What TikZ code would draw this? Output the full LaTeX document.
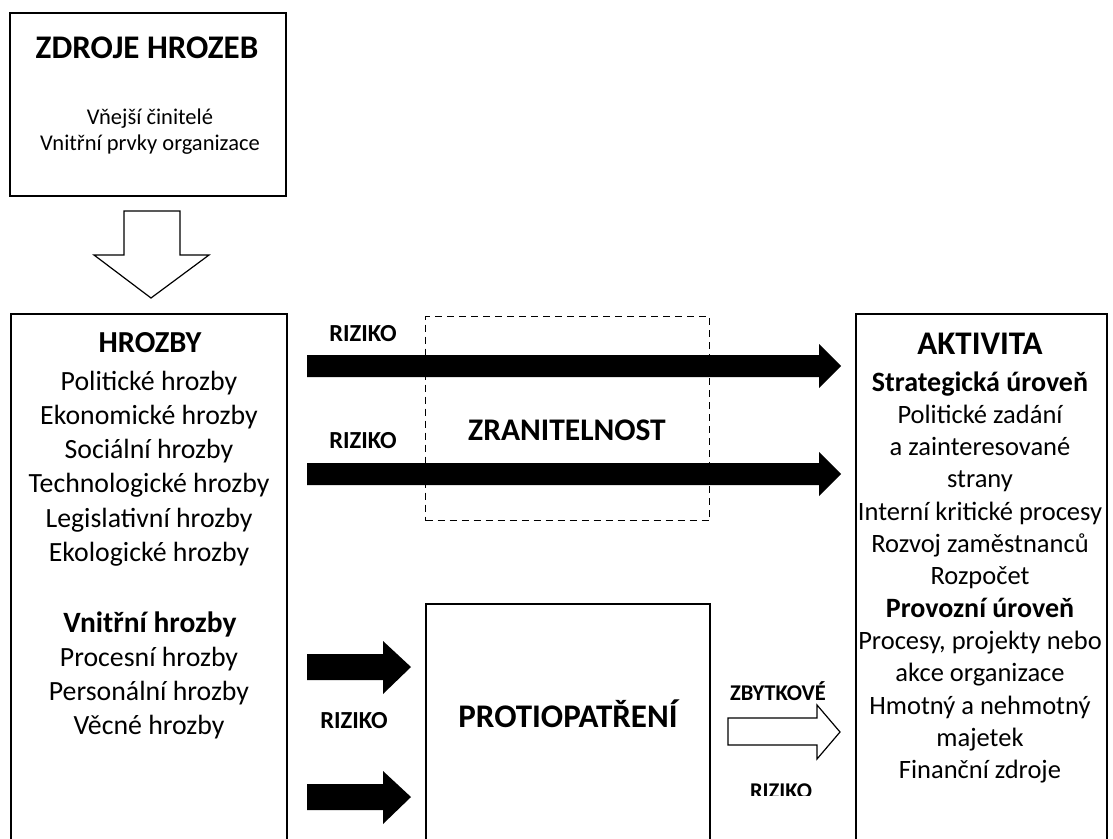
\documentclass[tikz,border=0pt]{standalone}
\usepackage{fontspec}
\setmainfont{Carlito}
\begin{document}
\begin{tikzpicture}[x=1pt,y=-1pt,
  box/.style={draw, line width=1.8pt, inner sep=0pt, anchor=north west},
  zonebox/.style={draw, line width=1.2pt, dash pattern=on 7pt off 5pt, inner sep=0pt, anchor=north west},
  body/.style={font=\fontsize{26.5}{32}\selectfont, inner sep=0pt, anchor=base},
  wide/.style={font=\fontsize{27.8}{32}\selectfont, inner sep=0pt, anchor=base},
  small/.style={font=\fontsize{22.5}{28}\selectfont, inner sep=0pt, anchor=base},
  title/.style={font=\fontsize{33}{38}\selectfont\bfseries, inner sep=0pt, anchor=base},
  sub/.style={font=\fontsize{28}{32}\selectfont\bfseries, inner sep=0pt, anchor=base},
  risk/.style={font=\fontsize{24.5}{28}\selectfont\bfseries, inner sep=0pt, anchor=base},
  smallrisk/.style={font=\fontsize{22.5}{26}\selectfont\bfseries, inner sep=0pt, anchor=base},
  solidarrow/.style={fill=black},
  hollowarrow/.style={draw, line width=1.2pt, fill=white, line join=miter}
]
\clip (0,0) rectangle (1113,838);
\fill[white] (0,0) rectangle (1113,838);

% --- frames ---
\node[box, minimum width=276pt, minimum height=183pt] (src) at (9,12) {};
\node[box, minimum width=276pt, minimum height=540pt] (thr) at (10,313) {};
\node[zonebox, minimum width=284pt, minimum height=204pt] (vul) at (425,316) {};
\node[box, minimum width=284pt, minimum height=250pt] (cm) at (425,603) {};
\node[box, minimum width=251pt, minimum height=540pt] (act) at (855,313) {};

% --- sources of threats ---
\node[title] (srct) at (147,58) {ZDROJE HROZEB};
\node[small] (srca) at (150,124) {Vňejší činitelé};
\node[small] (srcb) at (150,150) {Vnitřní prvky organizace};

% hollow arrow down
\draw[hollowarrow] (124,211) -- (180,211) -- (180,255) -- (209,255) -- (151,298)
  -- (94,255) -- (124,255) -- cycle;

% --- threats ---
\node[title, font=\fontsize{30.5}{36}\selectfont\bfseries] (thrt) at (150,352) {HROZBY};
\foreach \t [count=\i] in {Politické hrozby, Ekonomické hrozby, Sociální hrozby,
    Technologické hrozby, Legislativní hrozby, Ekologické hrozby}
  \node[wide] (thr\i) at (149,{390+34.3*(\i-1)}) {\t};
\node[sub, font=\fontsize{29.5}{34}\selectfont\bfseries] (thrin) at (150,632) {Vnitřní hrozby};
\foreach \t [count=\i] in {Procesní hrozby, Personální hrozby, Věcné hrozby}
  \node[wide] (thrin\i) at (149,{666+34*(\i-1)}) {\t};

% --- activity ---
\node[title] (actt) at (980,354) {AKTIVITA};
\foreach \t/\s [count=\i] in {Strategická úroveň/sub, Politické zadání/body,
    a zainteresované/body, strany/body, Interní kritické procesy/body,
    Rozvoj zaměstnanců/body, Rozpočet/body, Provozní úroveň/sub,
    {Procesy, projekty nebo}/body, akce organizace/body,
    Hmotný a nehmotný/body, majetek/body, Finanční zdroje/body}
  \node[\s] (act\i) at (980,{391+32.3*(\i-1)}) {\t};

% --- vulnerability and risk flows ---
\node[title, font=\fontsize{31.5}{36}\selectfont\bfseries] (vult) at (567,440) {ZRANITELNOST};
\node[risk] (r1) at (363,341) {RIZIKO};
\node[risk] (r2) at (363,448) {RIZIKO};
\fill[solidarrow] (307,355) -- (819,355) -- (819,344) -- (841,366) -- (819,388)
  -- (819,377) -- (307,377) -- cycle;
\fill[solidarrow] (307,463) -- (819,463) -- (819,452) -- (841,474) -- (819,496)
  -- (819,485) -- (307,485) -- cycle;

% --- countermeasures ---
\node[title] (cmt) at (568,727) {PROTIOPATŘENÍ};
\node[risk] (r3) at (354,728) {RIZIKO};
\fill[solidarrow] (307,654) -- (383,654) -- (383,641) -- (411,667) -- (383,694)
  -- (383,680) -- (307,680) -- cycle;
\fill[solidarrow] (307,784) -- (383,784) -- (383,771) -- (411,797) -- (383,824)
  -- (383,810) -- (307,810) -- cycle;

% residual risk, its lower label cut off at the bottom
\node[smallrisk] (rest) at (778,700) {ZBYTKOVÉ};
\draw[hollowarrow] (728,718) -- (817,718) -- (817,705) -- (840,732) -- (817,759)
  -- (817,745) -- (728,745) -- cycle;
\begin{scope}
  \clip (720,770) rectangle (845,795);
  \node[smallrisk] (resr) at (781,798) {RIZIKO};
\end{scope}
\end{tikzpicture}
\end{document}
